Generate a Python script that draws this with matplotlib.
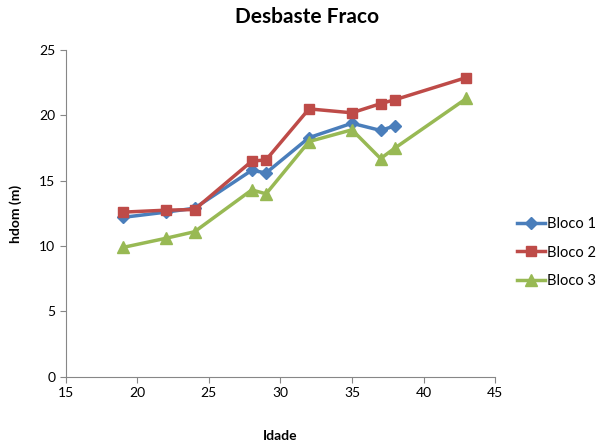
import matplotlib
matplotlib.use("Agg")
import matplotlib.pyplot as plt

idade = [19, 22, 24, 28, 29, 32, 35, 37, 38, 43]
bloco1 = [12.2, 12.6, 12.9, 15.8, 15.6, 18.3, 19.4, 18.85, 19.2, None]
bloco2 = [12.6, 12.75, 12.8, 16.5, 16.6, 20.5, 20.2, 20.9, 21.2, 22.9]
bloco3 = [9.9, 10.6, 11.1, 14.3, 14.0, 18.0, 18.9, 16.7, 17.5, 21.3]

series = [
    ("Bloco 1", bloco1, "#4A7EBB", "D", 6),
    ("Bloco 2", bloco2, "#BE4B48", "s", 7),
    ("Bloco 3", bloco3, "#98B954", "^", 8),
]

plt.rcParams["font.family"] = ["Lato", "DejaVu Sans"]

fig = plt.figure(figsize=(6.03, 4.47), dpi=100)
ax = fig.add_axes([0.109, 0.157, 0.712, 0.731])

for name, vals, color, marker, ms in series:
    xs = [x for x, v in zip(idade, vals) if v is not None]
    ys = [v for v in vals if v is not None]
    ax.plot(xs, ys, color=color, lw=2.5, marker=marker, markersize=ms,
            markeredgecolor=color, label=name)

ax.set_xlim(15, 45)
ax.set_ylim(0, 25)
ax.set_xticks(range(15, 46, 5))
ax.set_yticks(range(0, 26, 5))
ax.tick_params(axis="both", labelsize=10, color="#878787", length=4, direction="out")
for side in ("top", "right"):
    ax.spines[side].set_visible(False)
for side in ("left", "bottom"):
    ax.spines[side].set_color("#878787")

fig.suptitle("Desbaste Fraco", x=0.51, y=0.985, fontsize=15, fontweight="bold")
ax.set_xlabel("Idade", fontsize=10, fontweight="bold", labelpad=22)
ax.set_ylabel("hdom (m)", fontsize=10, fontweight="bold", labelpad=12)

fig.legend(loc="center left", bbox_to_anchor=(0.858, 0.435), frameon=False,
           fontsize=10.5, handlelength=1.9, labelspacing=1.0, handletextpad=0.15,
           borderpad=0, borderaxespad=0)

fig.savefig("out.png", dpi=100)
